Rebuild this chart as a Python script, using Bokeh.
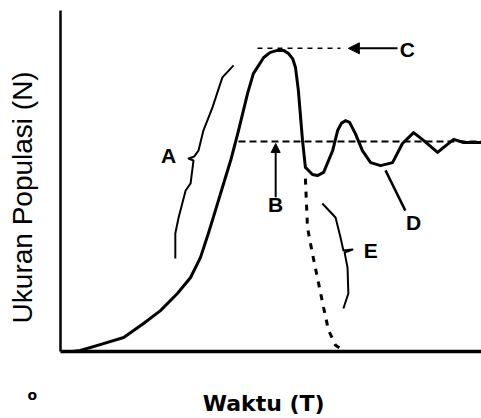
from bokeh.plotting import figure
from bokeh.models import Range1d, Label, Arrow, NormalHead, LinearAxis, FixedTicker
from bokeh.embed import file_html
from bokeh.resources import INLINE

# ---- data (time T and population N, both on a 0-100 scale) ----
curve_t = [3.0, 4.8, 10.4, 15.3, 20.1, 24.2, 28.3, 31.5, 33.9, 35.8, 37.5, 39.2, 41.2, 43.1,
           45.3, 46.7, 49.2, 50.8, 52.5, 54.0, 55.2, 56.2, 56.9, 57.6, 58.6, 59.3, 60.3,
           61.0, 62.2, 63.7, 65.9, 67.1, 68.0, 69.0, 70.0, 71.4, 73.1, 75.1, 77.5, 80.4,
           82.8, 85.5, 87.9, 91.3, 92.7, 95.2, 97.6, 102.0]
curve_n = [0.0, 0.3, 2.3, 4.1, 8.2, 12.0, 17.0, 21.7, 27.6, 34.6, 41.3, 48.1, 56.0, 64.8,
           75.7, 81.5, 86.2, 87.7, 88.3, 88.3, 87.4, 85.9, 83.3, 76.5, 61.9, 54.0, 52.8,
           51.9, 51.6, 52.5, 58.9, 64.8, 66.9, 67.7, 67.2, 63.9, 58.9, 55.4, 54.5, 55.4,
           61.0, 64.2, 61.9, 58.4, 59.8, 62.2, 61.3, 61.3]

crash_t = [59.3, 59.8, 61.0, 62.2, 63.7, 64.9, 66.6, 68.5]
crash_n = [50.7, 36.4, 28.7, 21.7, 12.9, 6.2, 1.8, 0.3]

carrying_t = [43.1, 102.0]
carrying_n = [61.6, 61.6]

peak_t = [47.7, 67.8]
peak_n = [88.9, 88.9]

brace_a_t = [41.9, 39.2, 36.8, 34.6, 33.4, 32.4, 31.0, 32.2, 31.5, 30.3, 28.6, 27.8, 27.8]
brace_a_n = [83.9, 80.4, 71.6, 64.8, 58.9, 57.2, 56.6, 56.0, 49.3, 47.2, 39.3, 34.6, 27.3]

brace_e_t = [63.4, 66.6, 67.8, 68.5, 70.7, 68.8, 69.5, 69.7, 68.5]
brace_e_n = [43.4, 39.3, 33.4, 29.6, 29.9, 29.0, 24.6, 17.0, 12.6]

arrow_c_t = [81.6, 69.7]
arrow_c_n = [88.9, 88.9]
arrow_b_t = [52.1, 52.1]
arrow_b_n = [45.2, 61.0]
line_d_t = [78.7, 83.5]
line_d_n = [53.1, 41.3]

letters = ["A", "B", "C", "D", "E"]
letter_t = [26.2, 52.1, 84.0, 85.5, 75.1]
letter_n = [57.5, 43.1, 88.6, 37.8, 29.6]

y_title = "Ukuran Populasi (N)"
x_title = "Waktu (T)"
origin_mark = "o"

# ---- figure ----
p = figure(width=481, height=418, output_backend="svg", toolbar_location=None,
           x_range=Range1d(-14.53, 101.94), y_range=Range1d(-19.65, 102.93),
           x_axis_type=None, y_axis_type=None,
           min_border_left=0, min_border_right=0, min_border_top=0, min_border_bottom=0)
p.outline_line_color = None
p.background_fill_color = "white"
p.border_fill_color = "white"

axis_style = dict(ticker=FixedTicker(ticks=[]), axis_line_color="black",
                  major_tick_line_color=None, minor_tick_line_color=None,
                  major_tick_out=0, minor_tick_out=0, major_tick_in=0, minor_tick_in=0,
                  major_label_text_font_size="0px", major_label_standoff=0,
                  fixed_location=0)
xaxis = LinearAxis(axis_line_width=3.5, bounds=(0, 101.94), **axis_style)
yaxis = LinearAxis(axis_line_width=2.5, bounds=(0, 100), **axis_style)
p.add_layout(xaxis, "below")
p.add_layout(yaxis, "left")

p.line(curve_t, curve_n, line_width=3, line_color="black", line_join="round", line_cap="round")
p.line(crash_t, crash_n, line_width=3, line_color="black", line_dash="6 7")
p.line(carrying_t, carrying_n, line_width=2, line_color="black", line_dash="7 4")
p.line(peak_t, peak_n, line_width=1.5, line_color="black", line_dash="5 5")
p.line(brace_a_t, brace_a_n, line_width=2, line_color="black", line_join="round")
p.line(brace_e_t, brace_e_n, line_width=2, line_color="black", line_join="round")
p.line(line_d_t, line_d_n, line_width=2.5, line_color="black")

p.add_layout(Arrow(end=NormalHead(size=11, fill_color="black", line_color="black"),
                   x_start=arrow_c_t[0], y_start=arrow_c_n[0],
                   x_end=arrow_c_t[1], y_end=arrow_c_n[1],
                   line_width=2, line_color="black"))
p.add_layout(Arrow(end=NormalHead(size=9, fill_color="black", line_color="black"),
                   x_start=arrow_b_t[0], y_start=arrow_b_n[0],
                   x_end=arrow_b_t[1], y_end=arrow_b_n[1],
                   line_width=2, line_color="black"))

for s, t, n in zip(letters, letter_t, letter_n):
    p.add_layout(Label(x=t, y=n, text=s, text_font="Liberation Sans", text_font_style="bold",
                       text_font_size="21px", text_align="center", text_baseline="middle",
                       text_color="black"))

p.add_layout(Label(x=-9.2, y=45.2, text=y_title, angle=1.5708, text_font="Liberation Sans",
                   text_font_size="28px", text_align="center", text_baseline="middle",
                   text_color="black"))
p.add_layout(Label(x=49.2, y=-15.2, text=x_title, text_font="DejaVu Sans",
                   text_font_style="bold", text_font_size="22px", text_align="center",
                   text_baseline="middle", text_color="black"))
p.add_layout(Label(x=-6.8, y=-12.9, text=origin_mark, text_font="DejaVu Sans",
                   text_font_style="bold", text_font_size="14px", text_align="center",
                   text_baseline="middle", text_color="black"))

open("out.html", "w").write(file_html(p, INLINE))
